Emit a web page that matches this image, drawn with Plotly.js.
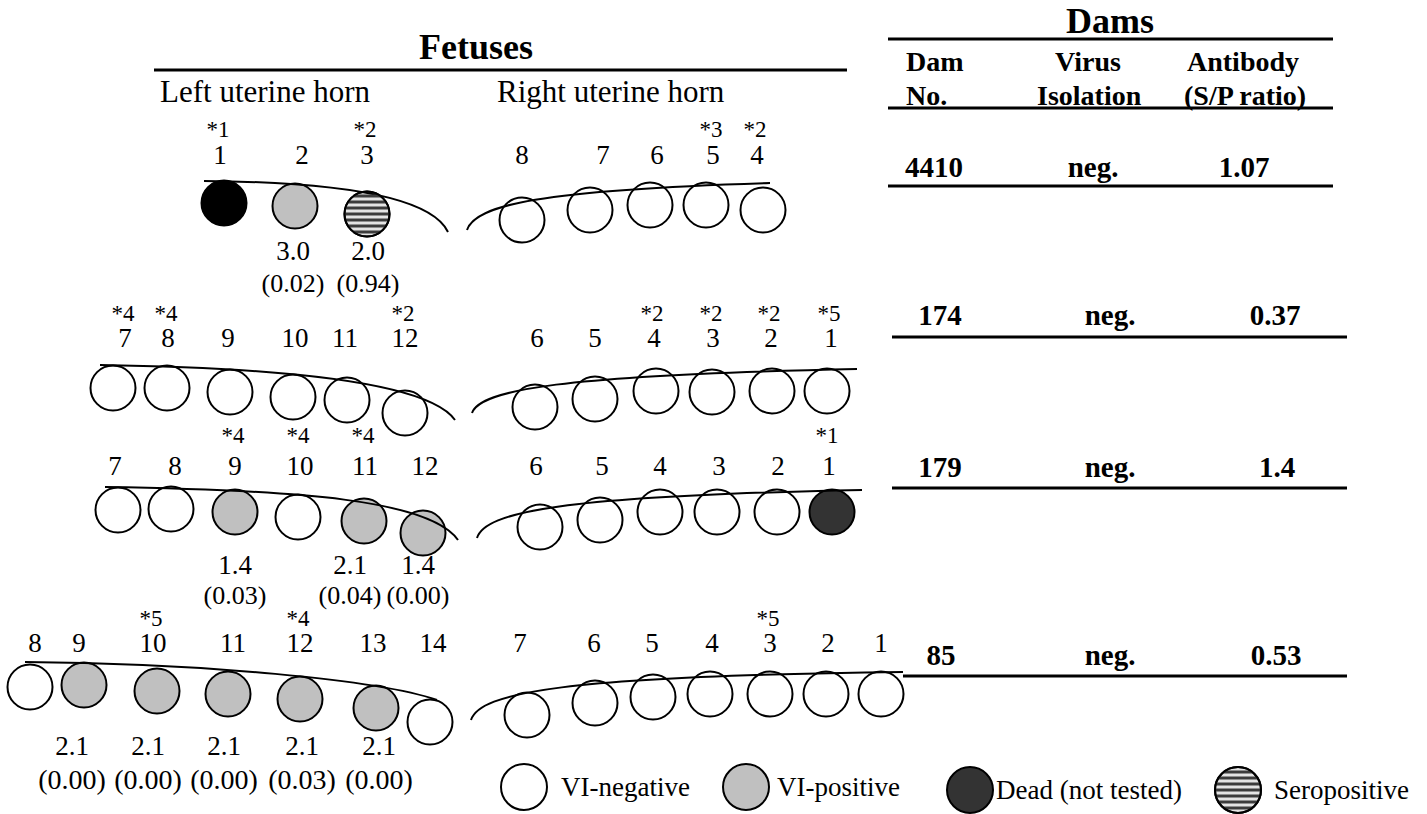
<!DOCTYPE html>
<html><head><meta charset="utf-8">
<script src="https://cdn.plot.ly/plotly-3.0.1.min.js"></script>
<style>html,body{margin:0;padding:0;background:#fff;}#chart{width:1427px;height:814px;}</style>
</head><body><div id="chart"></div>
<script>
const FONT = '"Liberation Serif", "Times New Roman", Times, serif';

// ---------------- DATA ----------------
// Dams table
const damNo = ['4410', '174', '179', '85'];
const damVirus = ['neg.', 'neg.', 'neg.', 'neg.'];
const damAntibody = ['1.07', '0.37', '1.4', '0.53'];

// Fetuses: 8 groups = 4 dams x [left horn, right horn]
const hornTitles = ['Left uterine horn', 'Right uterine horn'];
const fetusNo = [
  [1, 2, 3],
  [8, 7, 6, 5, 4],
  [7, 8, 9, 10, 11, 12],
  [6, 5, 4, 3, 2, 1],
  [7, 8, 9, 10, 11, 12],
  [6, 5, 4, 3, 2, 1],
  [8, 9, 10, 11, 12, 13, 14],
  [7, 6, 5, 4, 3, 2, 1]
];
// N = VI-negative, P = VI-positive, D = dead (not tested), K = dead (black), S = seropositive
const fetusStatus = [
  ['K', 'P', 'S'],
  ['N', 'N', 'N', 'N', 'N'],
  ['N', 'N', 'N', 'N', 'N', 'N'],
  ['N', 'N', 'N', 'N', 'N', 'N'],
  ['N', 'N', 'P', 'N', 'P', 'P'],
  ['N', 'N', 'N', 'N', 'N', 'D'],
  ['N', 'P', 'P', 'P', 'P', 'P', 'N'],
  ['N', 'N', 'N', 'N', 'N', 'N', 'N']
];
const fetusNote = [
  ['*1', '', '*2'],
  ['', '', '', '*3', '*2'],
  ['*4', '*4', '', '', '', '*2'],
  ['', '', '*2', '*2', '*2', '*5'],
  ['', '', '*4', '*4', '*4', ''],
  ['', '', '', '', '', '*1'],
  ['', '', '*5', '', '*4', '', ''],
  ['', '', '', '', '*5', '', '']
];
const fetusTiter = [
  ['', '3.0', '2.0'],
  [], [], [],
  ['', '', '1.4', '', '2.1', '1.4'],
  [],
  ['', '2.1', '2.1', '2.1', '2.1', '2.1', ''],
  []
];
const fetusSP = [
  ['', '(0.02)', '(0.94)'],
  [], [], [],
  ['', '', '(0.03)', '', '(0.04)', '(0.00)'],
  [],
  ['', '(0.00)', '(0.00)', '(0.00)', '(0.03)', '(0.00)', ''],
  []
];
const legendStatus = ['N', 'P', 'D', 'S'];
const legendLabel = ['VI-negative', 'VI-positive', 'Dead (not tested)', 'Seropositive'];

// ---------------- LAYOUT POSITIONS (pixel-like axis units) ----------------
const circleX = [
  [224, 295, 367],
  [522, 590, 650, 706, 763],
  [113, 167, 230, 293, 347, 405],
  [535, 595, 656, 712, 772, 827],
  [118, 171, 235, 298, 364, 423],
  [540, 600, 660, 717, 777, 832],
  [30, 84, 157, 228, 300, 376, 430],
  [527, 595, 653, 710, 770, 826, 881]
];
const circleY = [
  [203, 206, 214],
  [220, 210, 205, 205, 210],
  [388, 388, 392, 397, 400, 413],
  [407, 399, 391, 392, 391, 391],
  [510, 509, 512, 517, 521, 533],
  [527, 520, 512, 512, 512, 512],
  [687, 685, 691, 694, 699, 708, 722],
  [715, 703, 697, 694, 694, 694, 694]
];
const labelX = [
  [220, 302, 367],
  [522, 603, 657, 713, 757],
  [125, 168, 228, 295, 345, 405],
  [537, 595, 654, 713, 771, 831],
  [115, 175, 235, 300, 365, 425],
  [536, 602, 660, 719, 778, 829],
  [35, 79, 153, 233, 300, 373, 433],
  [520, 594, 652, 712, 770, 828, 881]
];
const valueX = [
  [0, 293, 368],
  [], [], [],
  [0, 0, 235, 0, 350, 418],
  [],
  [0, 72, 148, 224, 302, 379, 0],
  []
];
const rowNoteY = [131, 315, 437, 620];
const rowNumY = [157, 340, 468, 645];
const rowTiterY = [253, 0, 567, 748];
const rowSPY = [285, 0, 597, 782];
const rowSPSize = [26, 26, 26, 28];
const hornCurve = [
  [204, 181, 330, 182, 430, 195, 448, 232],
  [467, 230, 475, 205, 540, 190, 770, 183],
  [100, 365, 300, 368, 430, 385, 455, 420],
  [472, 413, 480, 390, 560, 375, 857, 369],
  [105, 487, 300, 490, 430, 500, 458, 540],
  [477, 538, 485, 512, 560, 496, 862, 490],
  [25, 662, 200, 663, 380, 680, 437, 700],
  [471, 720, 480, 693, 560, 676, 903, 672]
];
const damX = [934, 940, 940, 941];
const virusX = [1093, 1110, 1110, 1110];
const antibodyX = [1244, 1275, 1277, 1276];
const damY = [170, 318, 470, 658];
const damRule = [[888, 1333, 186], [892, 1347, 337], [892, 1347, 488], [903, 1347, 676]];
const legendX = [524, 746, 970, 1238];
const legendY = [787, 787, 790, 790];
const legendTextX = [561, 777, 996, 1274];

const statusFill = { N: '#ffffff', P: '#c0c0c0', D: '#333333', K: '#000000', S: '#e4e4e4' };
const FETUS_SIZE = 45, LEGEND_SIZE = 46;

// ---------------- BUILD ----------------
const traces = [];
const shapes = [];
const annotations = [];

function stripes(cx, cy, R) {
  for (let dy = -18; dy <= 18; dy += 6) {
    const h = Math.sqrt(Math.max(R * R - dy * dy, 0));
    shapes.push({ type: 'line', xref: 'x', yref: 'y', layer: 'above',
      x0: cx - h, x1: cx + h, y0: cy + dy, y1: cy + dy,
      line: { color: '#3c3c3c', width: 3 } });
  }
  shapes.push({ type: 'circle', xref: 'x', yref: 'y', layer: 'above',
    x0: cx - R, x1: cx + R, y0: cy - R, y1: cy + R,
    line: { color: '#000', width: 2 }, fillcolor: 'rgba(0,0,0,0)' });
}

// horn curves
hornCurve.forEach(c => {
  shapes.push({ type: 'path', xref: 'x', yref: 'y', layer: 'above',
    path: `M ${c[0]},${c[1]} C ${c[2]},${c[3]} ${c[4]},${c[5]} ${c[6]},${c[7]}`,
    line: { color: '#000', width: 2 } });
});

// fetus circles grouped by status
const byStatus = {};
fetusNo.forEach((grp, g) => {
  grp.forEach((n, i) => {
    const s = fetusStatus[g][i];
    (byStatus[s] = byStatus[s] || { x: [], y: [] });
    byStatus[s].x.push(circleX[g][i]);
    byStatus[s].y.push(circleY[g][i]);
    if (s === 'S') stripes(circleX[g][i], circleY[g][i], FETUS_SIZE / 2);
  });
});
Object.keys(byStatus).forEach(s => {
  traces.push({ type: 'scatter', mode: 'markers', x: byStatus[s].x, y: byStatus[s].y,
    marker: { symbol: 'circle', size: FETUS_SIZE, color: statusFill[s], line: { color: '#000', width: 2 } },
    hoverinfo: 'skip' });
});

// fetus numbers, notes, titers, S/P
const num = { x: [], y: [], text: [] }, note = { x: [], y: [], text: [] };
const tit = { x: [], y: [], text: [] }, sp = { x: [], y: [], text: [], size: [] };
fetusNo.forEach((grp, g) => {
  const row = Math.floor(g / 2);
  grp.forEach((n, i) => {
    num.x.push(labelX[g][i]); num.y.push(rowNumY[row]); num.text.push(String(n));
    if (fetusNote[g][i]) { note.x.push(labelX[g][i] - 2); note.y.push(rowNoteY[row]); note.text.push(fetusNote[g][i]); }
    if (fetusTiter[g][i]) { tit.x.push(valueX[g][i]); tit.y.push(rowTiterY[row]); tit.text.push(fetusTiter[g][i]); }
    if (fetusSP[g][i]) { sp.x.push(valueX[g][i]); sp.y.push(rowSPY[row]); sp.text.push(fetusSP[g][i]); sp.size.push(rowSPSize[row]); }
  });
});
function textTrace(d, size) {
  return { type: 'scatter', mode: 'text', x: d.x, y: d.y, text: d.text, textposition: 'middle center',
    textfont: { family: FONT, size: size, color: '#000' }, hoverinfo: 'skip', cliponaxis: false };
}
traces.push(textTrace(num, 27));
traces.push(textTrace(note, 23));
traces.push(textTrace(tit, 27));
traces.push(textTrace(sp, sp.size));

// legend
legendStatus.forEach((s, i) => {
  traces.push({ type: 'scatter', mode: 'markers', x: [legendX[i]], y: [legendY[i]],
    marker: { symbol: 'circle', size: LEGEND_SIZE, color: statusFill[s], line: { color: '#000', width: 2 } },
    hoverinfo: 'skip', cliponaxis: false });
  if (s === 'S') stripes(legendX[i], legendY[i], LEGEND_SIZE / 2);
});
traces.push({ type: 'scatter', mode: 'text', x: legendTextX, y: legendY.map(v => v + 2), text: legendLabel,
  textposition: 'middle right', textfont: { family: FONT, size: 27, color: '#000' }, hoverinfo: 'skip', cliponaxis: false });

// dams table values
function boldTrace(xs, texts, size) {
  return { type: 'scatter', mode: 'text', x: xs, y: damY, text: texts.map(t => '<b>' + t + '</b>'),
    textposition: 'middle center', textfont: { family: FONT, size: size, color: '#000' }, hoverinfo: 'skip', cliponaxis: false };
}
traces.push(boldTrace(damX, damNo, 29));
traces.push(boldTrace(virusX, damVirus, 29));
traces.push(boldTrace(antibodyX, damAntibody, 29));

// titles and headers
function ann(text, x, y, size, anchor) {
  annotations.push({ text: text, x: x, y: y, xref: 'x', yref: 'y', showarrow: false,
    xanchor: anchor || 'center', yanchor: 'middle', font: { family: FONT, size: size, color: '#000' } });
}
ann('<b>Fetuses</b>', 476, 47, 36);
ann(hornTitles[0], 265, 91, 31);
ann(hornTitles[1], 611, 91, 31);
ann('<b>Dams</b>', 1110, 21, 36);
ann('<b>Dam</b>', 904, 61, 28, 'left');
ann('<b>No.</b>', 904, 95, 28, 'left');
ann('<b>Virus</b>', 1088, 61, 28);
ann('<b>Isolation</b>', 1089, 95, 28);
ann('<b>Antibody</b>', 1243, 61, 28);
ann('<b>(S/P ratio)</b>', 1245, 95, 28);

// rules
function rule(x0, x1, y) {
  shapes.push({ type: 'line', xref: 'x', yref: 'y', x0: x0, x1: x1, y0: y, y1: y, line: { color: '#000', width: 3 } });
}
rule(154, 847, 70);
rule(888, 1333, 39);
rule(888, 1333, 108);
damRule.forEach(r => rule(r[0], r[1], r[2]));

const layout = {
  width: 1427, height: 814,
  margin: { l: 0, r: 0, t: 0, b: 0, pad: 0 },
  paper_bgcolor: '#ffffff', plot_bgcolor: '#ffffff',
  showlegend: false, hovermode: false,
  xaxis: { range: [0, 1427], visible: false, fixedrange: true },
  yaxis: { range: [814, 0], visible: false, fixedrange: true },
  shapes: shapes, annotations: annotations
};
Plotly.newPlot('chart', traces, layout, { staticPlot: true, displayModeBar: false });
</script>
</body></html>
